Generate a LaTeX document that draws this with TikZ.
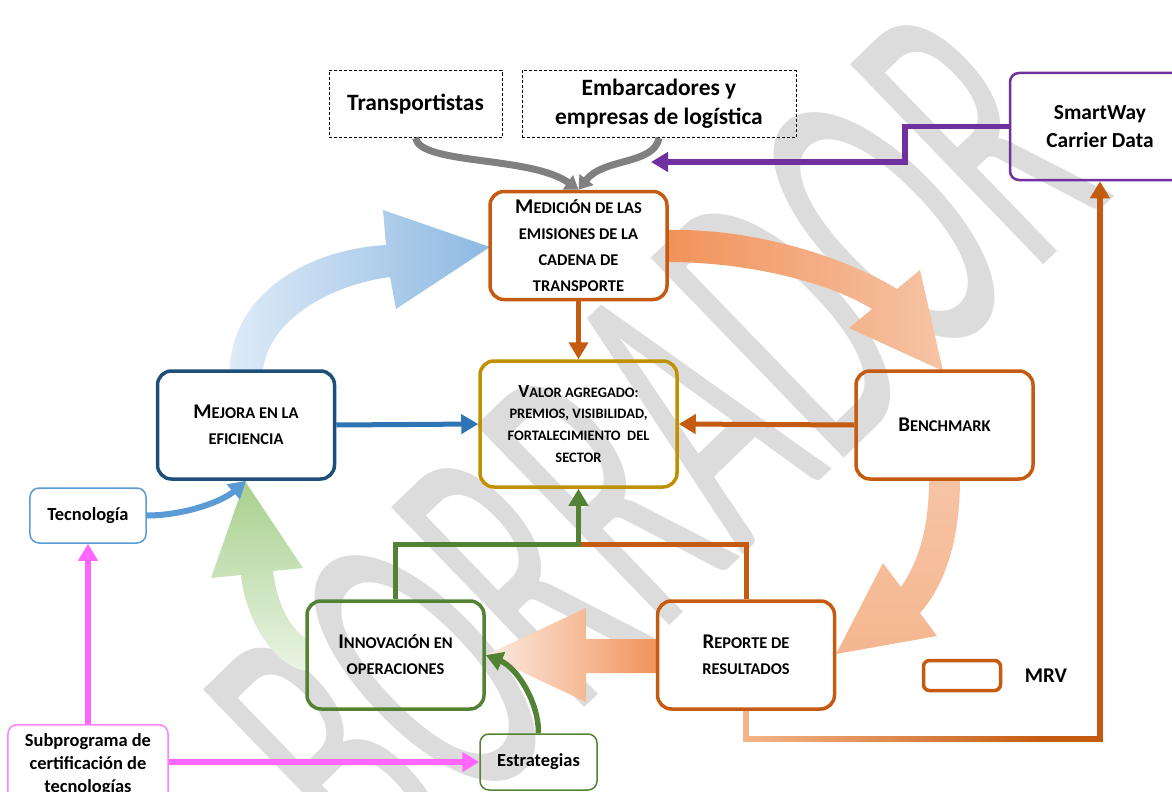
\documentclass[tikz,border=0pt]{standalone}
\usepackage{fontspec}
\setmainfont{Carlito}
\newfontfamily\wmfont{Carlito}[FakeStretch=0.5]
\usetikzlibrary{arrows.meta,fadings}

\definecolor{mrvorange}{RGB}{197,90,17}
\definecolor{lightorange}{RGB}{246,182,138}
\definecolor{valgold}{RGB}{191,144,0}
\definecolor{mejblue}{RGB}{31,78,121}
\definecolor{lineblue}{RGB}{46,117,182}
\definecolor{techblue}{RGB}{91,155,213}
\definecolor{opgreen}{RGB}{84,130,53}
\definecolor{swpurple}{RGB}{112,48,160}
\definecolor{pinkline}{RGB}{255,102,255}
\definecolor{pinkbox}{RGB}{255,128,255}
\definecolor{greyarrow}{RGB}{128,128,128}
\definecolor{wmgray}{RGB}{220,220,220}
% gradient stops of the block arrows
\definecolor{blueA}{RGB}{222,235,247}
\definecolor{blueB}{RGB}{141,185,226}
\definecolor{orA}{RGB}{241,146,90}
\definecolor{orB}{RGB}{252,236,226}
\definecolor{orC}{RGB}{246,196,165}
\definecolor{orD}{RGB}{245,182,143}
\definecolor{grA}{RGB}{234,244,229}
\definecolor{grB}{RGB}{168,208,141}

% fake small capitals: a larger initial
\newcommand\Ini[1]{{\fontsize{21}{26}\selectfont#1}}
\newcommand\IniS[1]{{\fontsize{18.5}{22}\selectfont#1}}

\tikzset{
  bigbox/.style={line width=3.5bp, rounded corners=14bp, minimum width=177bp,
    minimum height=108bp, align=center, inner sep=0pt,
    font=\fontsize{16.5}{26}\selectfont\bfseries},
  smallbox/.style={line width=1.5bp, rounded corners=9bp, align=center,
    font=\fontsize{18.5}{23}\selectfont\bfseries},
  dashbox/.style={draw, line width=1bp, dash pattern=on 3bp off 2bp,
    minimum height=67bp, align=center, inner sep=0pt,
    font=\fontsize{23.5}{29}\selectfont\bfseries},
  thinconn/.style={line width=5bp, -{Triangle[length=17bp,width=19bp]}},
  greyconn/.style={line width=7bp, draw=greyarrow,
    -{Triangle[length=13bp,width=17bp]}},
  watermark/.style={text=wmgray, inner sep=0pt,
    font=\fontsize{435}{435}\selectfont\wmfont},
}

\begin{document}
\begin{tikzpicture}[x=1bp,y=-1bp]
\useasboundingbox (0,0) rectangle (1172,792);
\clip (0,0) rectangle (1172,792);

% watermark behind the diagram
\node[watermark, rotate=44, anchor=base east] (wm) at (1117,194) {BORRADOR};

% broad gradient arrows of the improvement cycle
\shade[left color=blueA, right color=blueB]
  (230,371) .. controls (230,300) and (300,250) .. (386,245)
  -- (383,210) -- (490,247) -- (396,309) -- (390,277)
  .. controls (330,285) and (268,320) .. (263,371) -- cycle;
\shade[left color=orA, middle color=orB, right color=orC]
  (667,230) .. controls (760,228) and (850,260) .. (897,289)
  -- (920,270) -- (943,371) -- (849,328) -- (872,309)
  .. controls (830,283) and (750,262) .. (667,262) -- cycle;
\shade[top color=orC, middle color=orB, bottom color=orD]
  (929,479) .. controls (929,530) and (918,562) .. (901,587)
  -- (883,563) -- (836,654) -- (937,636) -- (920,613)
  .. controls (945,585) and (960,540) .. (960,479) -- cycle;
\shade[left color=orB, right color=orA]
  (658,639) -- (586,639) -- (586,608) -- (486,655) -- (586,702)
  -- (586,673) -- (658,673) -- cycle;
\shade[top color=grB, bottom color=grA]
  (307,671) .. controls (278,668) and (246,625) .. (241,575)
  -- (211,578) -- (245,481) -- (303,568) -- (273,571)
  .. controls (276,598) and (288,628) .. (307,639) -- cycle;

% boxes
\node[dashbox, minimum width=173bp] (trans) at (415.5,104) {Transportistas};
\node[dashbox, minimum width=274bp] (embar) at (659,104) {Embarcadores y\\empresas de log\'{\i}stica};
\node[smallbox, draw=swpurple, line width=2.5bp, minimum width=180bp, minimum height=107bp,
  font=\fontsize{21.5}{28}\selectfont\bfseries] (sw) at (1100,126.5) {SmartWay\\Carrier Data};
\node[bigbox, draw=mrvorange] (med) at (578.5,245.5)
  {\Ini{M}EDICI\'ON DE LAS\\EMISIONES DE LA\\CADENA DE\\TRANSPORTE};
\node[bigbox, draw=valgold, minimum width=197bp, minimum height=126bp,
  font=\fontsize{14.5}{22}\selectfont\bfseries] (val) at (578.5,424)
  {\IniS{V}ALOR AGREGADO:\\PREMIOS, VISIBILIDAD,\\FORTALECIMIENTO\ \ DEL\\SECTOR};
\node[bigbox, draw=mejblue] (mej) at (246,425) {\Ini{M}EJORA EN LA\\EFICIENCIA};
\node[bigbox, draw=mrvorange] (bench) at (944.5,425) {\Ini{B}ENCHMARK};
\node[bigbox, draw=opgreen] (inno) at (395.5,655) {\Ini{I}NNOVACI\'ON EN\\OPERACIONES};
\node[bigbox, draw=mrvorange] (rep) at (746,655) {\Ini{R}EPORTE DE\\RESULTADOS};
\node[smallbox, draw=techblue, minimum width=116bp, minimum height=55bp] (tec) at (88,515.5) {Tecnolog\'{\i}a};
\node[smallbox, draw=pinkbox, minimum width=160bp, anchor=north, inner ysep=8.5bp] (sub) at (88,724)
  {Subprograma de\\certificaci\'on de\\tecnolog\'{\i}as};
\node[smallbox, draw=opgreen, minimum width=117bp, minimum height=56bp] (estr) at (538.5,762) {Estrategias};
\node[draw=mrvorange, line width=3.5bp, rounded corners=6bp, minimum width=77bp,
  minimum height=30bp] (key) at (962,675.5) {};
\node[font=\fontsize{21}{25}\selectfont\bfseries] (keylabel) at (1046,676) {MRV};

% connectors
\draw[greyconn] (trans.south) .. controls +(5,27) and +(-48,-34) .. (med.north);
\draw[greyconn] (embar.south) .. controls +(-5,27) and +(25,-32) .. (med.north);
\coordinate (swin) at (651,162);
\draw[thinconn, draw=swpurple, line width=5.5bp] (sw.west) -- ++(-104,0) |- (swin);
\draw[thinconn, draw=mrvorange] (med.south) -- (val.north);
\draw[thinconn, draw=lineblue] (mej.east) -- (val.west);
\draw[thinconn, draw=mrvorange] (bench.west) -- (val.east);
\path (val.south) ++(0,56) coordinate (junc);
\draw[line width=5bp, draw=mrvorange] (rep.north) |- (junc);
\draw[thinconn, draw=opgreen] (inno.north) |- (junc) -- (val.south);
\draw[thinconn, draw=techblue, line width=6bp] (tec.east) .. controls +(37,0) and +(-24,21) .. (mej.south);
\draw[thinconn, draw=pinkline, line width=6bp] (sub.north) -- (tec.south);
\draw[thinconn, draw=pinkline, line width=6bp] (sub.east |- estr.west) -- (estr.west);
\draw[thinconn, draw=opgreen, line width=5.5bp] (estr.north) .. controls +(0,-33) and +(30,12) .. (inno.east);
\draw[thinconn, draw=mrvorange, line width=5.5bp] (rep.south) -- ++(0,28) -| (sw.south);
\draw[line width=5.5bp, draw=lightorange, path fading=east] (rep.south) -- ++(0,28) -- ++(300,0);
\end{tikzpicture}
\end{document}
